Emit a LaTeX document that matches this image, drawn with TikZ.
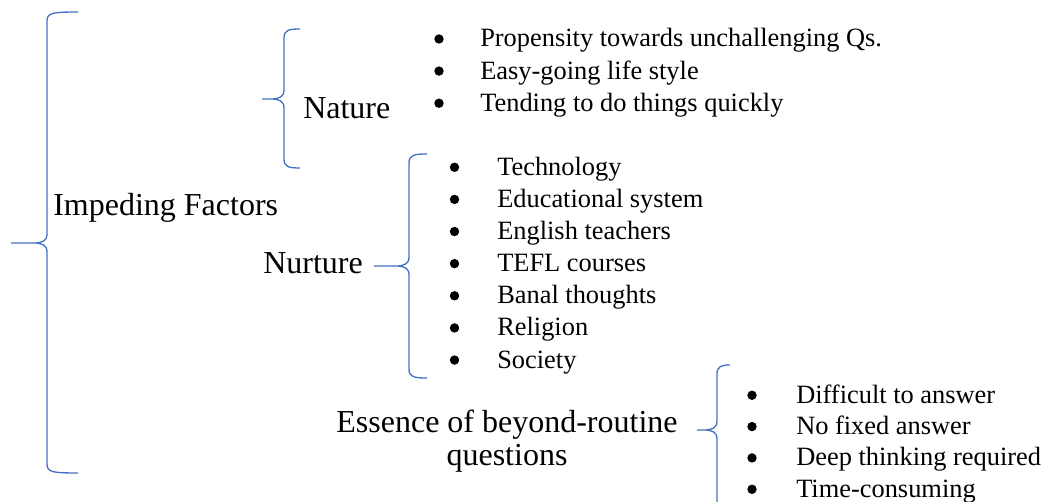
\documentclass[tikz,border=0pt]{standalone}
\usepackage{fontspec}
\setmainfont{Liberation Serif}
\usetikzlibrary{matrix}
\definecolor{bracecol}{HTML}{4472C4}

\begin{document}
\begin{tikzpicture}[x=0.75pt,y=-0.75pt,
  curly/.style={draw=bracecol, line width=1pt},
  heading/.style={anchor=base west, inner sep=0pt, font=\fontsize{24}{24.75}\selectfont},
  items/.style={matrix of nodes, inner sep=0pt, anchor=north west, row sep=4.1pt,
    nodes={anchor=base west, inner sep=0pt, text height=15pt, text depth=5pt,
      font=\fontsize{19.8}{24.2}\selectfont}}]
  \useasboundingbox (0,0) rectangle (1045,502);

  % the four braces: end x / line x / tip x / top y / tip y / bottom y
  \foreach \xe/\xv/\xt/\yt/\ym/\yb in {78/47/11/12/243/473, 300/284/262/29/99/168,
      427/409/374/154/266/378, 730/717/697/365/430/540}
    \draw[curly] (\xe,\yt) .. controls (\xv+5,\yt) and (\xv,\yt+1) .. (\xv,\yt+9)
      -- (\xv,\ym-9) .. controls (\xv,\ym-2) and (\xv-5,\ym) .. (\xv-13,\ym) -- (\xt,\ym)
      -- (\xv-13,\ym) .. controls (\xv-5,\ym) and (\xv,\ym+2) .. (\xv,\ym+9)
      -- (\xv,\yb-9) .. controls (\xv,\yb-1) and (\xv+5,\yb) .. (\xe,\yb);

  \node[heading] (imp) at (53,216) {Impeding Factors};
  \node[heading] (nat) at (303,119) {Nature};
  \node[heading] (nur) at (263,273) {Nurture};
  \node[heading, align=center, anchor=base] (ess) at (507,465) {Essence of beyond-routine\\questions};

  \matrix (natlist) [items] at (480,26.7)
  {
Propensity towards unchallenging Qs. \\
Easy-going life style \\
Tending to do things quickly \\
};
  \matrix (nurlist) [items] at (497,155)
  {
Technology \\
Educational system \\
English teachers \\
TEFL courses \\
Banal thoughts \\
Religion \\
Society \\
};
  \matrix (esslist) [items, row sep=3.5pt] at (796,383)
  {
Difficult to answer \\
No fixed answer \\
Deep thinking required \\
Time-consuming \\
};

  % bullets in front of each item
  \foreach \i in {1,2,3}
    \fill (natlist-\i-1.base west) ++(-41,-8) circle (4.7);
  \foreach \i in {1,...,7}
    \fill (nurlist-\i-1.base west) ++(-42.5,-8) circle (4.7);
  \foreach \i in {1,...,4}
    \fill (esslist-\i-1.base west) ++(-44,-8) circle (4.7);
\end{tikzpicture}
\end{document}
